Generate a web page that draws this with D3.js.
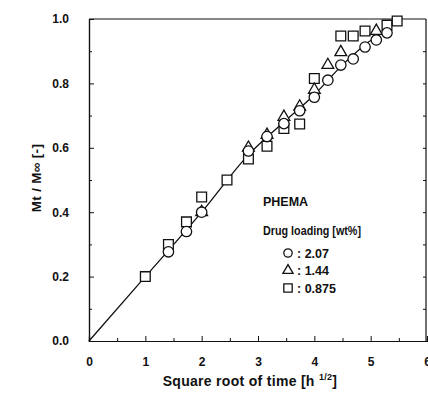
<!DOCTYPE html>
<html>
<head>
<meta charset="utf-8">
<script src="https://cdn.jsdelivr.net/npm/d3@7"></script>
<style>
  body { margin: 0; background: #fff; }
  text { font-family: "Liberation Sans", Arial, sans-serif; font-weight: bold; fill: #111; }
</style>
</head>
<body>
<svg id="chart" width="428" height="411"></svg>
<script>
// sqrt(time) values
const circleX = [1.41, 1.73, 2.0, 2.83, 3.16, 3.46, 3.74, 4.0, 4.24, 4.47, 4.69, 4.9, 5.1, 5.29];
const circleY = [0.277, 0.34, 0.40, 0.59, 0.635, 0.675, 0.715, 0.757, 0.81, 0.857, 0.876, 0.913, 0.935, 0.957];

const triX = [2.0, 2.83, 3.16, 3.46, 3.74, 4.0, 4.24, 4.47, 5.1];
const triY = [0.40, 0.60, 0.64, 0.696, 0.728, 0.78, 0.857, 0.897, 0.963];

const squareX = [1.0, 1.41, 1.73, 2.0, 2.45, 2.83, 3.16, 3.46, 3.74, 4.0, 4.47, 4.69, 4.9, 5.29, 5.47];
const squareY = [0.2, 0.30, 0.37, 0.447, 0.50, 0.565, 0.605, 0.66, 0.674, 0.815, 0.947, 0.947, 0.963, 0.981, 0.994];

// fitted curve
const fitX = [0, 1, 2, 2.83, 3.46, 4.0, 4.47, 4.9, 5.29, 5.45];
const fitY = [0, 0.2, 0.40, 0.578, 0.68, 0.765, 0.852, 0.92, 0.97, 1.0];

const xTicks = [0, 1, 2, 3, 4, 5, 6];
const yTicks = [0, 0.2, 0.4, 0.6, 0.8, 1.0];
const legendItems = [
  { shape: "circle", label: ": 2.07" },
  { shape: "triangle", label: ": 1.44" },
  { shape: "square", label: ": 0.875" }
];

const svg = d3.select("#chart");
const x = d3.scaleLinear().domain([0, 6]).range([89, 427]);
const y = d3.scaleLinear().domain([0, 1]).range([341, 19]);

const g = svg.append("g");

// frame
g.append("line").attr("x1", x(0)).attr("x2", 426).attr("y1", y(1)).attr("y2", y(1))
  .attr("stroke", "#111").attr("stroke-width", 1.2);
g.append("line").attr("x1", 426).attr("x2", 426).attr("y1", y(1)).attr("y2", y(0))
  .attr("stroke", "#111").attr("stroke-width", 1.2);

// axes (ticks inward)
const yAxis = d3.axisLeft(y).tickValues(yTicks).tickFormat(d3.format(".1f")).tickSize(-5).tickPadding(20);
const yAxisMinor = d3.axisLeft(y).tickValues(d3.range(0.1, 1, 0.2)).tickFormat("").tickSize(-3);
const xAxis = d3.axisBottom(x).tickValues(xTicks).tickFormat(d3.format("d")).tickSize(-5).tickPadding(16);
const xAxisMinor = d3.axisBottom(x).tickValues(d3.range(0.5, 6, 1)).tickFormat("").tickSize(-3);

function styleAxis(sel) {
  sel.select(".domain").attr("stroke", "#111").attr("stroke-width", 1.2);
  sel.selectAll(".tick line").attr("stroke", "#111").attr("stroke-width", 1);
  sel.selectAll("text").attr("font-size", 12);
}

g.append("g").attr("transform", `translate(${x(0)},0)`).call(yAxis).call(styleAxis);
g.append("g").attr("transform", `translate(${x(0)},0)`).call(yAxisMinor).call(styleAxis);
g.append("g").attr("transform", `translate(0,${y(0)})`).call(xAxis).call(styleAxis);
g.append("g").attr("transform", `translate(0,${y(0)})`).call(xAxisMinor).call(styleAxis);

// right-side ticks
g.append("g").attr("transform", "translate(426,0)")
  .call(d3.axisRight(y).tickValues(d3.range(0.1, 1, 0.1)).tickFormat("").tickSize(-3))
  .call(s => s.select(".domain").remove())
  .call(s => s.selectAll(".tick line").attr("stroke", "#111"));

// axis titles
svg.append("text").attr("x", 250).attr("y", 386).attr("text-anchor", "middle")
  .attr("font-size", 14).attr("letter-spacing", 0.3)
  .text("Square root of time [h ")
  .append("tspan").attr("font-size", 9).attr("dy", -6).text("1/2")
  .select(function () { return this.parentNode; })
  .append("tspan").attr("dy", 6).text("]");

svg.append("text").attr("transform", "translate(41,178) rotate(-90)")
  .attr("text-anchor", "middle").attr("font-size", 13.5).attr("letter-spacing", 0.3)
  .text("Mt / M\u221E [-]");

// fitted line
const fit = fitX.map((v, i) => [v, fitY[i]]);
g.append("path").datum(fit)
  .attr("fill", "none").attr("stroke", "#111").attr("stroke-width", 1.3)
  .attr("d", d3.line().x(d => x(d[0])).y(d => y(d[1])).curve(d3.curveMonotoneX));

const sym = {
  circle: d3.symbol().type(d3.symbolCircle).size(85),
  triangle: d3.symbol().type(d3.symbolTriangle).size(60),
  square: d3.symbol().type(d3.symbolSquare).size(95)
};

function drawSeries(xs, ys, shape) {
  g.append("g").selectAll("path")
    .data(xs.map((v, i) => [v, ys[i]]))
    .join("path")
    .attr("transform", d => `translate(${x(d[0])},${y(d[1])})`)
    .attr("d", sym[shape]())
    .attr("fill", "#fff").attr("stroke", "#111").attr("stroke-width", 1.3);
}

drawSeries(squareX, squareY, "square");
drawSeries(triX, triY, "triangle");
drawSeries(circleX, circleY, "circle");

// legend
svg.append("text").attr("x", 263).attr("y", 206).attr("font-size", 12.5).text("PHEMA");
svg.append("text").attr("x", 263).attr("y", 235).attr("font-size", 12.5)
  .attr("textLength", 98).attr("lengthAdjust", "spacingAndGlyphs")
  .text("Drug loading [wt%]");

const leg = svg.append("g").selectAll("g").data(legendItems).join("g")
  .attr("transform", (d, i) => `translate(288,${253 + i * 17.5})`);
leg.append("path")
  .attr("d", d => sym[d.shape].size(d.shape === "square" ? 70 : d.shape === "circle" ? 55 : 45)())
  .attr("fill", "#fff").attr("stroke", "#111").attr("stroke-width", 1.3);
leg.append("text").attr("x", 9).attr("y", 4.5).attr("font-size", 12.5).text(d => d.label);
</script>
</body>
</html>
